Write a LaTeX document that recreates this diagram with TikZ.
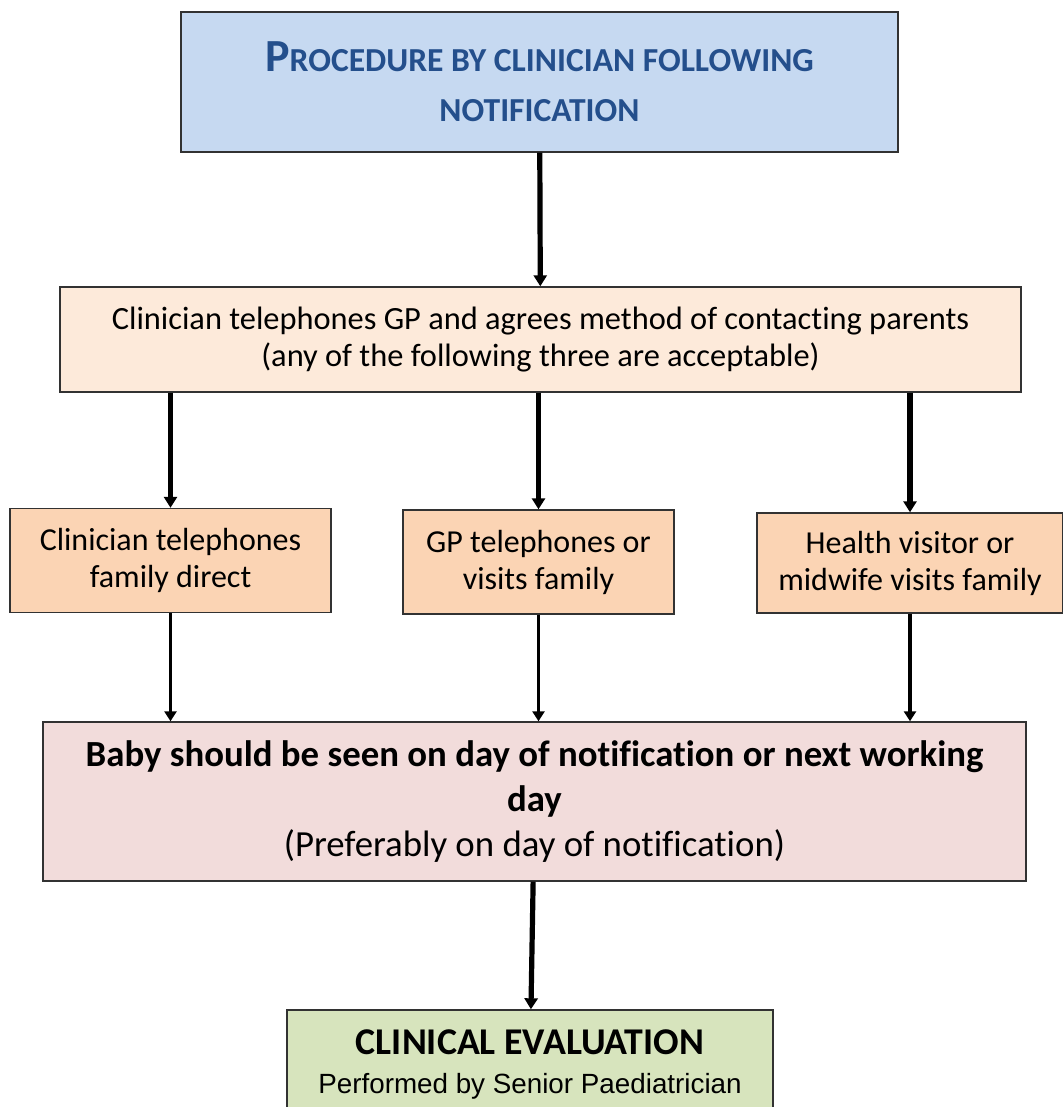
\documentclass[tikz,border=0pt]{standalone}
\usepackage{fontspec}
\setmainfont[Ligatures=NoCommon]{Carlito}
\newfontfamily\arialfont{Liberation Sans}
\usetikzlibrary{arrows.meta,positioning}
\definecolor{fBlue}{RGB}{198,217,241}
\definecolor{tBlue}{RGB}{36,79,140}
\definecolor{fCream}{RGB}{253,234,218}
\definecolor{fPeach}{RGB}{251,212,180}
\definecolor{fPink}{RGB}{242,220,219}
\definecolor{fGreen}{RGB}{215,228,189}
\definecolor{dEdge}{RGB}{50,50,50}
\begin{document}
\begin{tikzpicture}[x=0.5pt,y=-0.5pt,
  bx/.style={draw=dEdge,line width=0.7pt,align=center,inner sep=0pt,font=\fontsize{16.2}{18.5}\selectfont},
  tB/.style={bx,fill=fBlue,text=tBlue,minimum width=358.5pt,minimum height=70pt,font=\bfseries\fontsize{16.8}{25}\selectfont},
  cB/.style={bx,fill=fCream,minimum width=480.5pt,minimum height=52.5pt},
  pB/.style={bx,fill=fPeach,minimum height=52pt,font=\fontsize{16}{18.5}\selectfont},
  kB/.style={bx,fill=fPink,minimum width=491.5pt,minimum height=79.5pt,font=\fontsize{18.4}{22.5}\selectfont},
  gB/.style={bx,fill=fGreen,minimum width=243pt,minimum height=54.5pt},
  ar/.style={-{Triangle[length=5.5pt,width=6.5pt]},line width=2.6pt},
  sar/.style={-{Triangle[length=5pt,width=6pt]},line width=1.7pt}]
\useasboundingbox (0,0) rectangle (1062,1107);
\node[tB] (proc) at (539.5,82) {{\fontsize{23}{25}\selectfont P}ROCEDURE BY CLINICIAN FOLLOWING\\NOTIFICATION};
\node[cB] (call) at (540.5,339.5) {Clinician telephones GP and agrees method of contacting parents\\(any of the following three are acceptable)};
\node[pB,minimum width=160.5pt] (clin) at (170.5,560.5) {Clinician telephones\\family direct};
\node[pB,minimum width=135.5pt] (gp) at (538.5,562) {GP telephones or\\visits family};
\node[pB,minimum width=153pt,minimum height=50pt] (hv) at (910,563) {Health visitor or\\midwife visits family};
\node[kB] (seen) at (534.5,801.5) {\textbf{Baby should be seen on day of notification or next working}\\\textbf{day}\\(Preferably on day of notification)};
\node[gB] (eval) at (530,1064.5) {{\bfseries\fontsize{18.9}{22}\selectfont CLINICAL EVALUATION}\\[1pt]{\arialfont\fontsize{13.9}{16}\selectfont Performed by Senior Paediatrician}};
\draw[ar] (proc) -- (call);
\foreach \n in {clin,gp,hv} \draw[ar] (call.south -| \n.north) -- (\n.north);
\foreach \n in {clin,gp,hv} \draw[sar] (\n.south) -- (\n.south |- seen.north);
\draw[ar] (seen) -- (eval);
\end{tikzpicture}
\end{document}
